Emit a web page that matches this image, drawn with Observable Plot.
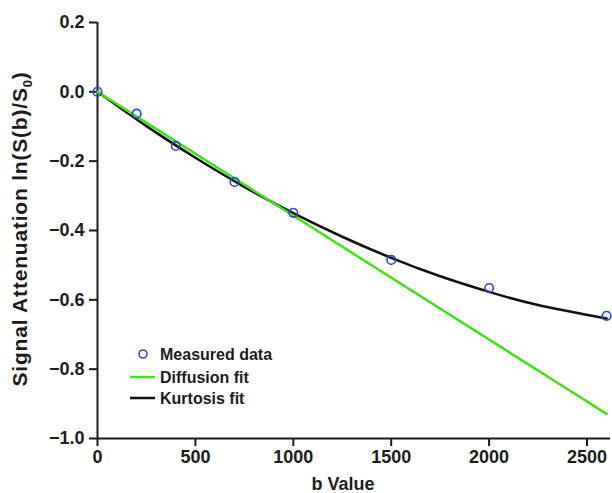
<!DOCTYPE html>
<html><head><meta charset="utf-8">
<script src="https://cdn.jsdelivr.net/npm/d3@7"></script>
<script src="https://cdn.jsdelivr.net/npm/@observablehq/plot@0.6"></script>
<style>
html,body{margin:0;padding:0;background:#fff;}
svg{font-family:"Liberation Sans",Arial,sans-serif;}
</style>
</head><body>
<div id="chart"></div>
<script>
// Measured data
const measuredB = [0, 200, 400, 700, 1000, 1500, 2000, 2600];
const measuredS = [0, -0.063, -0.156, -0.26, -0.349, -0.485, -0.566, -0.646];
// Diffusion fit (straight line)
const diffB = [0, 2600];
const diffS = [0, -0.929];
// Kurtosis fit
const kurtB = [0, 250, 500, 750, 1000, 1250, 1500, 1750, 2000, 2250, 2600];
const kurtS = [0, -0.099, -0.190, -0.274, -0.350, -0.418, -0.479, -0.532, -0.577, -0.615, -0.654];
const xTicks = [0, 500, 1000, 1500, 2000, 2500];
const yTicks = [0.2, 0.0, -0.2, -0.4, -0.6, -0.8, -1.0];
const legendItems = ["Measured data", "Diffusion fit", "Kurtosis fit"];

const measured = measuredB.map((b, i) => ({b, s: measuredS[i]}));
const diff = diffB.map((b, i) => ({b, s: diffS[i]}));
const kurt = kurtB.map((b, i) => ({b, s: kurtS[i]}));

const BLUE = "#3345c8", GREEN = "#44e01c", BLACK = "#111", INK = "#1c1c1c";
const fmt = d3.format(".1f");

const plot = Plot.plot({
  width: 612, height: 493,
  marginLeft: 97, marginRight: 2, marginTop: 22, marginBottom: 55,
  style: {fontFamily: "Liberation Sans, Arial, sans-serif", background: "#fff"},
  x: {domain: [0, 2620]},
  y: {domain: [-1.0, 0.2]},
  marks: [
    Plot.axisX({ticks: xTicks, tickSize: 8, tickPadding: 4, tickFormat: d => String(d), fontSize: 18, fontWeight: "bold", label: null, color: INK, strokeWidth: 2}),
    Plot.axisY({ticks: yTicks, tickSize: 8, tickPadding: 5, tickFormat: d => fmt(d), fontSize: 18, fontWeight: "bold", label: null, color: INK, strokeWidth: 2}),
    Plot.ruleX([0], {stroke: INK, strokeWidth: 2}),
    Plot.ruleY([-1.0], {stroke: INK, strokeWidth: 2}),
    Plot.line(kurt, {x: "b", y: "s", stroke: BLACK, strokeWidth: 2.5, curve: "natural"}),
    Plot.line(diff, {x: "b", y: "s", stroke: GREEN, strokeWidth: 2.5}),
    Plot.dot(measured, {x: "b", y: "s", r: 4.3, stroke: BLUE, strokeWidth: 1.6, fill: "none"})
  ]
});

const svg = d3.select(plot);
svg.attr("overflow", "visible");
// Axis titles
svg.append("text").attr("x", 343).attr("y", 490).attr("text-anchor", "middle")
  .attr("font-size", 18).attr("font-weight", "bold").attr("fill", INK).text("b Value");
const yt = svg.append("text").attr("transform", "translate(27,229) rotate(-90)")
  .attr("text-anchor", "middle").attr("font-size", 21).attr("letter-spacing", 0.8)
  .attr("font-weight", "bold").attr("fill", INK);
yt.append("tspan").text("Signal Attenuation ln(S(b)/S");
yt.append("tspan").attr("font-size", 13).attr("dy", 5).text("0");
yt.append("tspan").attr("dy", -5).text(")");

// Legend
const lg = svg.append("g").attr("font-size", 16).attr("font-weight", "bold").attr("fill", INK).attr("text-anchor", "start");
lg.append("circle").attr("cx", 143).attr("cy", 354).attr("r", 4).attr("fill", "none").attr("stroke", BLUE).attr("stroke-width", 1.6);
lg.append("line").attr("x1", 130).attr("x2", 155).attr("y1", 377).attr("y2", 377).attr("stroke", GREEN).attr("stroke-width", 2.5);
lg.append("line").attr("x1", 130).attr("x2", 155).attr("y1", 398).attr("y2", 398).attr("stroke", BLACK).attr("stroke-width", 2.5);
legendItems.forEach((t, i) => {
  lg.append("text").attr("x", 160).attr("y", [354, 377, 398][i]).attr("dy", "0.35em").attr("fill", INK).text(t);
});

document.getElementById("chart").appendChild(plot);
</script>
</body></html>
